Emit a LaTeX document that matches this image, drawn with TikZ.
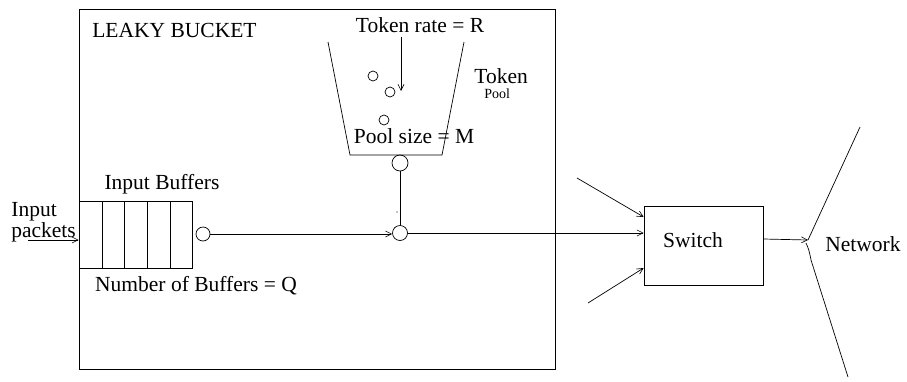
\documentclass[tikz,border=0pt]{standalone}
\usepackage{fontspec}
\setmainfont{Liberation Serif}
\usetikzlibrary{arrows.meta}
\begin{document}
\begin{tikzpicture}[x=1pt,y=-1pt,
  line width=0.7pt,
  arr/.style={-{Straight Barb[length=6pt,width=6pt,line width=0.6pt]}},
  lbl/.style={inner sep=0pt,anchor=base,font=\fontsize{21.5}{24}\selectfont},
  lbll/.style={lbl,anchor=base west},
  smallc/.style={circle,draw,inner sep=0pt,minimum size=10pt},
  bigc/.style={circle,draw,inner sep=0pt,minimum size=15pt}]
\useasboundingbox (0,0) rectangle (907,381);
% leaky bucket frame
\node[draw,minimum width=476pt,minimum height=360pt,inner sep=0pt] (lb) at (317,189) {};
\node[lbll] (lbt) at (92,37) {LEAKY BUCKET};
% input buffer
\node[draw,minimum width=113pt,minimum height=67pt,inner sep=0pt] (buf) at (135.5,234.5) {};
\foreach \x in {102,124.5,147,170}{\draw (\x,201) -- (\x,268);}
\node[lbl] (ibt) at (162,189) {Input Buffers};
\node[lbl] (nbt) at (196,291) {Number of Buffers = Q};
\node[lbll] (inp1) at (11,216.5) {Input};
\node[lbll] (inp2) at (11,237) {packets};
\coordinate (inS) at (28,240);
\draw[arr] (inS) -- (inS -| buf.west);
% output circle of buffer
\node[bigc,minimum size=14pt] (c1) at (203,234) {};
% token pool
\draw (328,42) -- (350,155) -- (442,155) -- (464,42);
\node[lbl] (trt) at (420,32) {Token rate = R};
\coordinate (dropS) at (401,37);
\coordinate (dropE) at (401,91);
\draw[arr] (dropS) -- (dropE);
\node[smallc] (t1) at (373,76) {};
\node[smallc] (t2) at (390,92) {};
\node[smallc] (t3) at (384,120) {};
\node[lbl] (pst) at (414,143) {Pool size = M};
\node[lbll] (tkt) at (474,83) {Token};
\node[lbll,font=\fontsize{14}{16}\selectfont] (plt) at (484,98) {Pool};
\node[bigc,minimum size=16pt] (c2) at (400,163) {};
% junction
\node[bigc] (j) at (400,233) {};
\draw (c2) -- (j);
\fill (397,212) circle (0.6pt);
\draw[arr] (c1) -- (c1 -| j.west);
% switch
\node[draw,minimum width=119pt,minimum height=79pt,inner sep=0pt] (sw) at (703.5,245.5) {};
\node[lbl] (swt) at (693,247) {Switch};
\draw[arr] (j) -- (j -| sw.west);
\coordinate (in1) at (577,178);
\coordinate (in3) at (588,303);
\draw[arr] (in1) -- ([yshift=28.5pt]sw.west);
\draw[arr] (in3) -- ([yshift=-22.5pt]sw.west);
% network
\coordinate (nt) at (808,240);
\draw[arr] ([yshift=6.5pt]sw.east) -- (nt);
\coordinate (nu) at (860,127);
\coordinate (nl) at (848,377);
\draw (nt) -- (nu);
\draw (806,243) .. controls (809,250) .. (811,260) -- (nl);
\node[lbll] (nwt) at (825,251) {Network};
\end{tikzpicture}
\end{document}
